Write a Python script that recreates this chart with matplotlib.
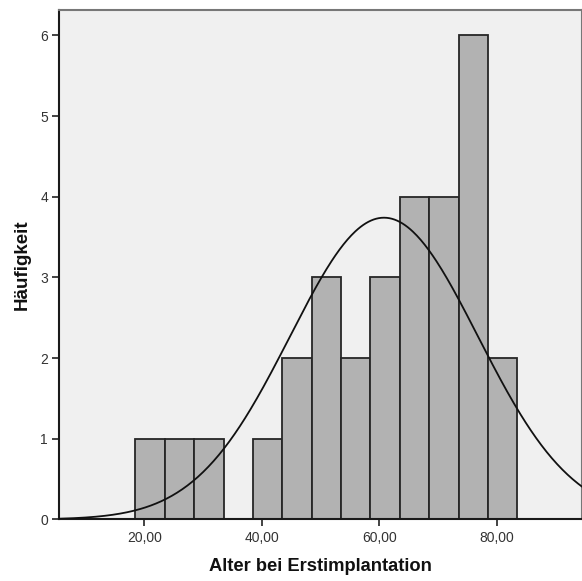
import numpy as np
import matplotlib
matplotlib.use("Agg")
import matplotlib.pyplot as plt
from matplotlib.ticker import FuncFormatter

# Histogram data (SPSS output, bin width 5)
bin_edges = [18.5, 23.5, 28.5, 33.5, 38.5, 43.5, 48.5, 53.5, 58.5, 63.5, 68.5, 73.5, 78.5, 83.5]
counts = [1, 1, 1, 0, 1, 2, 3, 2, 3, 4, 4, 6, 2]

# normal curve parameters
mean_age = 60.8
sd_age = 16.0
n_total = sum(counts)
bin_width = 5.0

x_ticks = [20, 40, 60, 80]
y_ticks = [0, 1, 2, 3, 4, 5, 6]

plt.rcParams["font.family"] = ["Liberation Sans", "DejaVu Sans"]

fig = plt.figure(figsize=(5.82, 5.81), dpi=100)
ax = fig.add_axes([0.1014, 0.1059, 0.8986, 0.8777])
ax.set_facecolor("#f0f0f0")

lefts = np.array(bin_edges[:-1])
widths = np.diff(bin_edges)
ax.bar(lefts, counts, width=widths, align="edge", color="#b2b2b2",
       edgecolor="#262626", linewidth=1.3, zorder=2)

xs = np.linspace(5.5, 94.5, 400)
ys = n_total * bin_width / (sd_age * np.sqrt(2 * np.pi)) * np.exp(-0.5 * ((xs - mean_age) / sd_age) ** 2)
ax.plot(xs, ys, color="#111111", linewidth=1.3, zorder=3)

ax.set_xlim(5.5, 94.5)
ax.set_ylim(0, 6.32)
ax.set_xticks(x_ticks)
ax.set_yticks(y_ticks)
ax.xaxis.set_major_formatter(FuncFormatter(lambda v, p: ("%.2f" % v).replace(".", ",")))
ax.tick_params(axis="both", labelsize=10, labelcolor="#333333", color="#222222",
               length=5, width=1.2, pad=3)

for side in ["left", "bottom"]:
    ax.spines[side].set_color("#1a1a1a")
    ax.spines[side].set_linewidth(1.5)
for side in ["top", "right"]:
    ax.spines[side].set_color("#777777")
    ax.spines[side].set_linewidth(1.5)

ax.set_xlabel("Alter bei Erstimplantation", fontsize=13.2, fontweight="bold",
              color="#111111", labelpad=10)
ax.set_ylabel("Häufigkeit", fontsize=13.5, fontweight="bold", color="#111111",
              labelpad=7)

fig.savefig("out.png", dpi=100)
